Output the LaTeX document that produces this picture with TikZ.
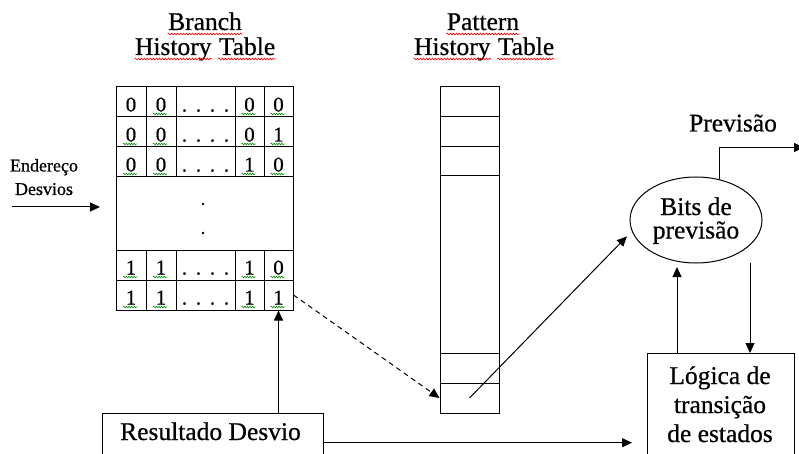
\documentclass[tikz,border=0pt]{standalone}
\usepackage{fontspec}
\setmainfont{Liberation Serif}[FakeBold=0.6]
\usetikzlibrary{arrows.meta,calc,decorations.pathmorphing,shapes.geometric}

\begin{document}
\begin{tikzpicture}[x=1pt,y=-1pt,
  line width=1pt,
  >={Triangle[length=10pt,width=9pt]},
  big/.style={font=\fontsize{25.5}{25.5}\selectfont, inner sep=0pt},
  small/.style={font=\fontsize{18}{18}\selectfont, inner sep=0pt},
  cell/.style={draw, inner sep=0pt, minimum height=30pt,
    text height=20pt, text depth=1pt, font=\fontsize{21}{21}\selectfont},
  spell/.style={red, line width=0.6pt, decorate,
    decoration={snake, amplitude=0.9pt, segment length=3pt}},
  gram/.style={green!55!black, line width=0.6pt, decorate,
    decoration={snake, amplitude=0.8pt, segment length=2.6pt}},
  dotsym/.style={circle, fill, inner sep=0pt, minimum size=2.6pt}
]
\clip (0,0) rectangle (799,454);
\fill[white] (0,0) rectangle (799,454);

% ---------- headings ----------
\node[big, anchor=base] (bA) at (205,30) {Branch};
\node[big, anchor=base west] (bB) at (134.5,55) {History};
\node[big, anchor=base west] (bC) at ($(bB.base east)+(6.4,0)$) {Table};
\node[big, anchor=base] (pA) at (483,30) {Pattern};
\node[big, anchor=base west] (pB) at (413.5,55) {History};
\node[big, anchor=base west] (pC) at ($(pB.base east)+(6.4,0)$) {Table};
\foreach \w in {bA,bB,bC,pA,pB,pC}
  \draw[spell] ($(\w.base west)+(0,4)$) -- ($(\w.base east)+(0,4)$);

% ---------- branch history table ----------
\foreach \r/\yc/\a/\b/\d/\e in {1/102/0/0/0/0, 2/132/0/0/0/1, 3/162/0/0/1/0,
                                5/265/1/1/1/0, 6/295/1/1/1/1} {
  \node[cell, minimum width=30pt] (b\r-1) at (131,\yc) {\a};
  \node[cell, minimum width=30pt] (b\r-2) at (161,\yc) {\b};
  \node[cell, minimum width=59pt] (b\r-3) at (205.5,\yc)
    {.\hspace{8.75pt}.\hspace{8.75pt}.\hspace{8.75pt}.};
  \node[cell, minimum width=29pt] (b\r-4) at (249.5,\yc) {\d};
  \node[cell, minimum width=29pt] (b\r-5) at (278.5,\yc) {\e};
}
\node[draw, inner sep=0pt, minimum width=177pt, minimum height=73pt] (bgap) at (204.5,213.5) {};
\node[dotsym] (vd1) at (203,204) {};
\node[dotsym] (vd2) at (203,233) {};

% grammar marks under the bits
\foreach \c in {2,4,5}
  \draw[gram] ($(b1-\c.south)+(-8,-3.5)$) -- ($(b1-\c.south)+(6,-3.5)$);
\foreach \r in {2,3,5,6}
  \foreach \c in {1,2,4,5}
    \draw[gram] ($(b\r-\c.south)+(-8,-3.5)$) -- ($(b\r-\c.south)+(6,-3.5)$);

% ---------- pattern history table ----------
\foreach \n/\yc/\h in {1/102/30, 2/132/30, 3/161.5/29, 4/264.5/177, 5/368/30, 6/398/30}
  \node[draw, inner sep=0pt, minimum width=59pt, minimum height=\h pt] (p\n) at (469.5,\yc) {};

% ---------- address input ----------
\node[small, anchor=base] (ad1) at (44,171.5) {Endereço};
\node[small, anchor=base] (ad2) at (44,195) {Desvios};
\coordinate (ain) at (12,207);
\coordinate (aout) at (100,207);
\draw[->] (ain) -- (aout);

% ---------- prediction bits ----------
\node[draw, ellipse, inner sep=0pt, minimum width=132pt, minimum height=86pt] (bits) at (696,220) {};
\node[big, anchor=base] (bt1) at (696,215) {Bits de};
\node[big, anchor=base] (bt2) at (696,238.5) {previsão};

\node[big, anchor=base] (prev) at (733,131.5) {Previsão};
\coordinate (pout) at (804,147.5);
\draw[->] (bits.60) |- (pout);

% ---------- state transition logic ----------
\node[draw, inner sep=0pt, minimum width=147pt, minimum height=120pt, anchor=north west] (logic) at (647,353) {};
\node[big, anchor=base] (lg1) at (720,384) {Lógica de};
\node[big, anchor=base] (lg2) at (720,413) {transição};
\node[big, anchor=base] (lg3) at (720,442) {de estados};

\coordinate (upS) at ($(logic.north west)+(30,0)$);
\coordinate (upE) at (677,267);
\draw[->] (upS) -- (upE);
\coordinate (dnS) at (750,263);
\coordinate (dnE) at (logic.north -| dnS);
\draw[->] (dnS) -- (dnE);

% ---------- branch outcome ----------
\node[draw, inner sep=0pt, minimum width=221pt, minimum height=59pt, anchor=north west] (res) at (101.5,412.7) {};
\node[big, anchor=base] (rt) at (210.5,440) {Resultado Desvio};
\coordinate (resT) at ($(logic.west |- res.east)+(-15,0)$);
\draw[->] (res.east) -- (resT);
\draw[->] (b6-5.south |- res.north) -- (b6-5.south);

% ---------- table lookups ----------
\draw[->, dash pattern=on 5pt off 4pt] (b6-5.east) -- (p6.west);
\draw[->, shorten >=7pt] (p6.center) -- (bits.190);
\end{tikzpicture}
\end{document}
